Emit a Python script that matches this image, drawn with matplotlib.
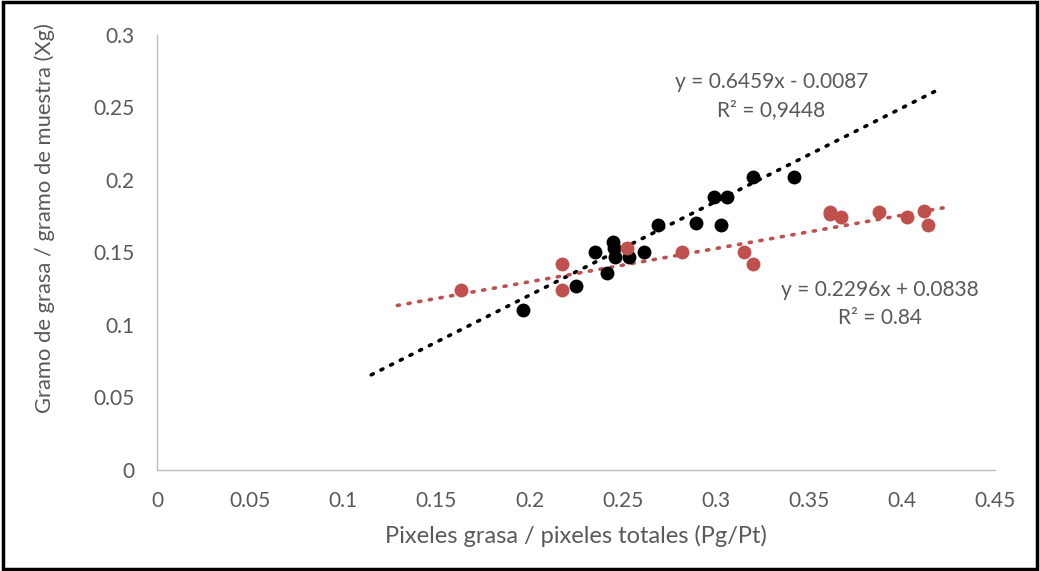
import matplotlib.pyplot as plt
from matplotlib.patches import Rectangle
import numpy as np

plt.rcParams['font.family'] = ['Lato', 'DejaVu Sans']

# serie negra
x_negro = [0.1962, 0.2247, 0.2352, 0.2415, 0.2447, 0.2460, 0.2455, 0.2531, 0.2615,
           0.2692, 0.2891, 0.2988, 0.3060, 0.3029, 0.3199, 0.3421]
y_negro = [0.1106, 0.1271, 0.1501, 0.1359, 0.1574, 0.1470, 0.1530, 0.1471, 0.1501,
           0.1692, 0.1706, 0.1883, 0.1883, 0.1692, 0.2019, 0.2019]

# serie roja
x_rojo = [0.1633, 0.2175, 0.2175, 0.2522, 0.2820, 0.3153, 0.3199, 0.3611, 0.3611,
          0.3673, 0.3876, 0.4024, 0.4119, 0.4141]
y_rojo = [0.1243, 0.1421, 0.1241, 0.1529, 0.1501, 0.1501, 0.1419, 0.1777, 0.1765,
          0.1747, 0.1775, 0.1747, 0.1788, 0.1692]

# lineas de tendencia (coeficientes del grafico)
m_negro, b_negro = 0.6459, -0.0087
m_rojo, b_rojo = 0.2296, 0.0838
rango_negro = [0.115, 0.418]
rango_rojo = [0.129, 0.422]

xticks = [0, 0.05, 0.1, 0.15, 0.2, 0.25, 0.3, 0.35, 0.4, 0.45]
yticks = [0, 0.05, 0.1, 0.15, 0.2, 0.25, 0.3]

gris = '#595959'
rojo = '#C0504D'

fig = plt.figure(figsize=(10.4, 5.71), dpi=100)
ax = fig.add_axes([0.151, 0.177, 0.806, 0.762])

xn = np.array(rango_negro)
ax.plot(xn, m_negro * xn + b_negro, color='black', lw=2.6,
        linestyle=(0, (0.6, 2.4)), dash_capstyle='round', zorder=2)
xr = np.array(rango_rojo)
ax.plot(xr, m_rojo * xr + b_rojo, color=rojo, lw=2.6,
        linestyle=(0, (0.6, 2.4)), dash_capstyle='round', zorder=2)

ax.scatter(x_negro, y_negro, s=100, color='black', zorder=3, linewidths=0)
ax.scatter(x_rojo, y_rojo, s=100, color=rojo, zorder=4, linewidths=0)

ax.set_xlim(0, 0.45)
ax.set_ylim(0, 0.3)
ax.set_xticks(xticks)
ax.set_yticks(yticks)
ax.set_xticklabels([f'{t:g}' for t in xticks])
ax.set_yticklabels([f'{t:g}' for t in yticks])
ax.tick_params(length=0, labelsize=15, colors=gris)
ax.tick_params(axis='y', pad=16)
ax.tick_params(axis='x', pad=15)

for s in ['top', 'right']:
    ax.spines[s].set_visible(False)
for s in ['left', 'bottom']:
    ax.spines[s].set_color('#BFBFBF')
    ax.spines[s].set_linewidth(1)

ax.set_xlabel('Pixeles grasa / pixeles totales (Pg/Pt)', fontsize=17, color=gris, labelpad=10)
ax.set_ylabel('Gramo de grasa / gramo de muestra (Xg)', fontsize=15.8, color=gris)
ax.yaxis.set_label_coords(-0.122, 0.58)

ax.text(0.3297, 0.2676, 'y = 0.6459x - 0.0087', ha='center', va='center', fontsize=15, color=gris)
ax.text(0.3297, 0.248, 'R² = 0,9448', ha='center', va='center', fontsize=15, color=gris)
ax.text(0.388, 0.124, 'y = 0.2296x + 0.0838', ha='center', va='center', fontsize=15, color=gris)
ax.text(0.388, 0.1048, 'R² = 0.84', ha='center', va='center', fontsize=15, color=gris)

fig.patches.append(Rectangle((0.003, 0.004), 0.994, 0.992, transform=fig.transFigure,
                             fill=False, edgecolor='black', linewidth=2.5))

fig.savefig('out.png', dpi=100)
plt.close(fig)
